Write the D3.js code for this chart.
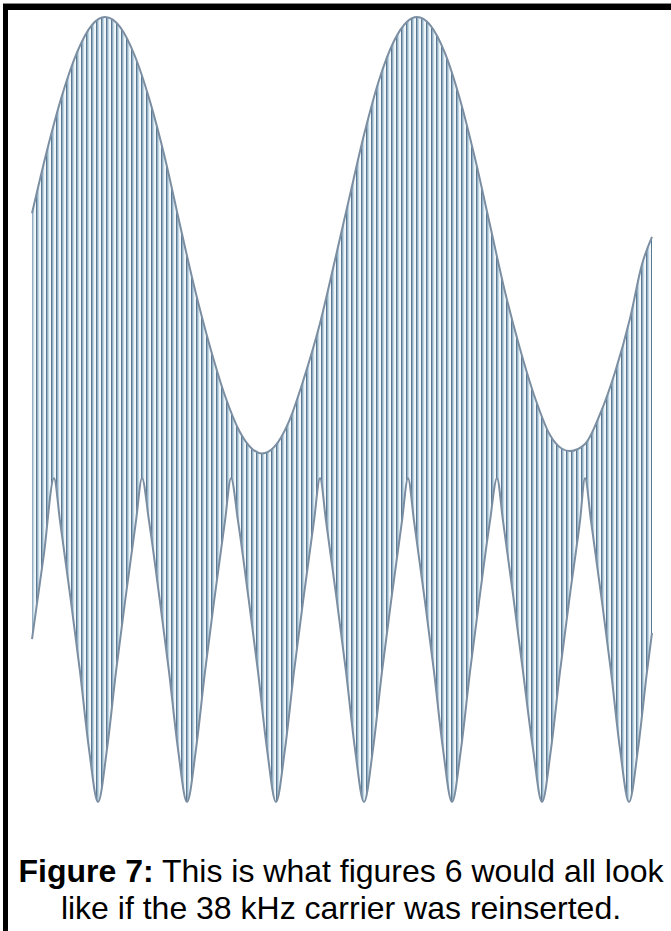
<!DOCTYPE html>
<html>
<head>
   <meta charset="UTF-8">
   <title>Figure 7 - 38 kHz carrier reinserted</title>
   <style>
       body { margin: 0; overflow: hidden; background: white; }
       #chart { width: 671px; height: 931px; }
       .envelope { fill: none; stroke: #7b8ea2; stroke-width: 2; }
       .caption {
           font-family: "Liberation Sans", Arial, sans-serif;
           font-size: 32px;
           fill: #000;
       }
   </style>
   <script src="https://cdnjs.cloudflare.com/ajax/libs/d3/7.8.5/d3.min.js"></script>
</head>
<body>
   <div id="chart"></div>
   <script>
       // upper envelope (time, amplitude)
       const upperT = [0, 15, 30, 45, 60, 73, 88, 103, 118, 133, 148, 163, 178, 193, 208, 220, 230,
                       242, 257, 272, 287, 302, 317, 332, 347, 362, 375, 385,
                       398, 413, 428, 443, 458, 473, 488, 503, 518, 530, 538,
                       553, 568, 583, 598, 610, 620];
       const upperV = [0.50, 0.66, 0.80, 0.91, 0.98, 1.00, 0.975, 0.90, 0.785, 0.64, 0.47, 0.305, 0.16, 0.035, -0.058, -0.10, -0.112,
                       -0.096, -0.03, 0.08, 0.21, 0.37, 0.536, 0.70, 0.839, 0.939, 0.988, 1.00,
                       0.98, 0.908, 0.79, 0.64, 0.47, 0.30, 0.155, 0.03, -0.065, -0.10, -0.106,
                       -0.088, -0.012, 0.095, 0.232, 0.37, 0.44];

       // lower envelope (time, amplitude)
       const lowerT = [0, 12, 22,
                       28, 38, 48, 57, 66, 75, 84, 94, 104, 110,
                       117, 127, 137, 146, 155, 164, 173, 183, 193, 199,
                       206, 216, 226, 235, 244, 253, 262, 272, 282, 288,
                       294, 304, 314, 323, 332, 341, 350, 360, 370, 376,
                       382, 392, 402, 411, 420, 429, 438, 448, 458, 465,
                       471, 481, 491, 501, 510, 519, 528, 538, 548, 553,
                       559, 569, 579, 588, 597, 606, 615, 620];
       const lowerV = [-0.585, -0.367, -0.175,
                       -0.284, -0.471, -0.668, -0.865, -1.0, -0.865, -0.668, -0.471, -0.284, -0.175,
                       -0.284, -0.471, -0.668, -0.865, -1.0, -0.865, -0.668, -0.471, -0.284, -0.175,
                       -0.284, -0.471, -0.668, -0.865, -1.0, -0.865, -0.668, -0.471, -0.284, -0.175,
                       -0.284, -0.471, -0.668, -0.865, -1.0, -0.865, -0.668, -0.471, -0.284, -0.175,
                       -0.284, -0.471, -0.668, -0.865, -1.0, -0.865, -0.668, -0.471, -0.284, -0.175,
                       -0.284, -0.471, -0.668, -0.865, -1.0, -0.865, -0.668, -0.471, -0.284, -0.175,
                       -0.284, -0.471, -0.668, -0.865, -1.0, -0.865, -0.668, -0.569];

       const captionBold = "Figure 7:";
       const captionLines = [" This is what figures 6 would all look",
                             "like if the 38 kHz carrier was reinserted."];

       const width = 671;
       const height = 931;

       const upper = upperT.map((t, i) => ({t: t, v: upperV[i]}));
       const lower = lowerT.map((t, i) => ({t: t, v: lowerV[i]}));

       const x = d3.scaleLinear().domain([0, 620]).range([32, 652]);
       const y = d3.scaleLinear().domain([-1, 1]).range([802, 17]);

       const svg = d3.select("#chart")
           .append("svg")
           .attr("width", width)
           .attr("height", height)
           .style("background", "white");

       const defs = svg.append("defs");

       // carrier strokes
       const pat = defs.append("pattern")
           .attr("id", "carrier")
           .attr("patternUnits", "userSpaceOnUse")
           .attr("x", 31)
           .attr("y", 0)
           .attr("width", 5)
           .attr("height", 10);
       pat.append("rect").attr("width", 5).attr("height", 10).attr("fill", "#f2f8fb");
       pat.append("rect").attr("x", 0).attr("width", 1.7).attr("height", 10).attr("fill", "#5a7892");
       pat.append("rect").attr("x", 1.7).attr("width", 1.4).attr("height", 10).attr("fill", "#bcd6e5");

       const belowUpper = d3.area()
           .x(d => x(d.t))
           .y0(y(-1.2))
           .y1(d => y(d.v))
           .curve(d3.curveMonotoneX);

       const aboveLower = d3.area()
           .x(d => x(d.t))
           .y0(y(1.2))
           .y1(d => y(d.v))
           .curve(d3.curveMonotoneX);

       defs.append("clipPath").attr("id", "clipUpper")
           .append("path").attr("d", belowUpper(upper));
       defs.append("clipPath").attr("id", "clipLower")
           .append("path").attr("d", aboveLower(lower));

       svg.append("g")
           .attr("clip-path", "url(#clipUpper)")
           .append("rect")
           .attr("clip-path", "url(#clipLower)")
           .attr("x", x(0))
           .attr("y", y(1.05))
           .attr("width", x(620) - x(0) + 1)
           .attr("height", y(-1.05) - y(1.05))
           .attr("fill", "url(#carrier)");

       const line = d3.line()
           .x(d => x(d.t))
           .y(d => y(d.v))
           .curve(d3.curveMonotoneX);

       svg.append("path").attr("class", "envelope").attr("d", line(upper));
       svg.append("path").attr("class", "envelope").attr("d", line(lower));

       // frame (top and left only)
       svg.append("rect").attr("x", 3).attr("y", 3).attr("width", width - 3).attr("height", 1).attr("fill", "#888");
       svg.append("rect").attr("x", 3).attr("y", 4).attr("width", width - 3).attr("height", 6).attr("fill", "#000");
       svg.append("rect").attr("x", 3).attr("y", 4).attr("width", 5).attr("height", height - 4).attr("fill", "#000");

       // caption
       const t1 = svg.append("text")
           .attr("class", "caption")
           .attr("x", 341)
           .attr("y", 882)
           .attr("text-anchor", "middle");
       t1.append("tspan").style("font-weight", "bold").text(captionBold);
       t1.append("tspan").text(captionLines[0]);

       svg.append("text")
           .attr("class", "caption")
           .attr("x", 341)
           .attr("y", 919)
           .attr("text-anchor", "middle")
           .text(captionLines[1]);
   </script>
</body>
</html>
